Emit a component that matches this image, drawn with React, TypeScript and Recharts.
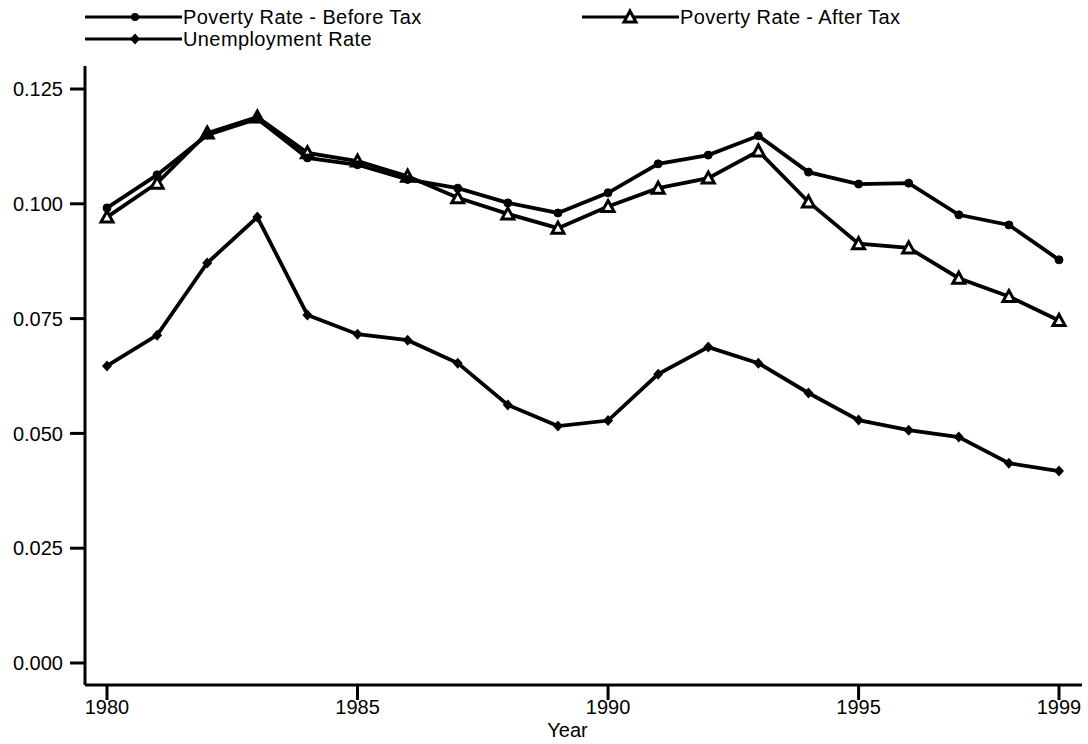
import React from "react";
import { Line, LineChart, XAxis, YAxis } from "recharts";

const years = [
  1980, 1981, 1982, 1983, 1984, 1985, 1986, 1987, 1988, 1989,
  1990, 1991, 1992, 1993, 1994, 1995, 1996, 1997, 1998, 1999,
];
const povertyBeforeTax = [
  0.0991, 0.1063, 0.115, 0.1185, 0.11, 0.1085, 0.1053, 0.1034, 0.1002, 0.098,
  0.1024, 0.1087, 0.1106, 0.1148, 0.1069, 0.1043, 0.1045, 0.0976, 0.0954, 0.0878,
];
const povertyAfterTax = [
  0.0971, 0.1045, 0.1154, 0.1189, 0.1111, 0.1093, 0.106, 0.1013, 0.0978, 0.0947,
  0.0994, 0.1034, 0.1056, 0.1115, 0.1004, 0.0913, 0.0904, 0.0838, 0.0798, 0.0746,
];
const unemploymentRate = [
  0.0647, 0.0714, 0.0871, 0.0971, 0.0758, 0.0716, 0.0703, 0.0653, 0.0562, 0.0516,
  0.0528, 0.0629, 0.0688, 0.0653, 0.0588, 0.0529, 0.0507, 0.0492, 0.0435, 0.0418,
];
const yearTicks = [1980, 1985, 1990, 1995, 1999];
const rateTicks = [0, 0.025, 0.05, 0.075, 0.1, 0.125];

const data = years.map((year, i) => ({
  year,
  before: povertyBeforeTax[i],
  after: povertyAfterTax[i],
  unemployment: unemploymentRate[i],
}));

const FONT = '"Liberation Sans", Arial, sans-serif';
const INK = "#000";

function Triangle({ cx, cy }: { cx?: number; cy?: number }) {
  if (cx == null || cy == null) return null;
  return (
    <path
      d={`M${cx},${cy - 6} L${cx + 6},${cy + 5} L${cx - 6},${cy + 5} Z`}
      fill="#fff"
      stroke={INK}
      strokeWidth={3}
      strokeLinejoin="miter"
    />
  );
}

function Diamond({ cx, cy }: { cx?: number; cy?: number }) {
  if (cx == null || cy == null) return null;
  return (
    <path
      d={`M${cx},${cy - 5.5} L${cx + 5},${cy} L${cx},${cy + 5.5} L${cx - 5},${cy} Z`}
      fill={INK}
    />
  );
}

function LegendItem({
  x,
  y,
  label,
  marker,
}: {
  x: number;
  y: number;
  label: string;
  marker: "circle" | "triangle" | "diamond";
}) {
  return (
    <g>
      <line x1={x} y1={y} x2={x + 97} y2={y} stroke={INK} strokeWidth={3} />
      {marker === "circle" && <circle cx={x + 50} cy={y} r={4} fill={INK} />}
      {marker === "triangle" && <Triangle cx={x + 48} cy={y} />}
      {marker === "diamond" && <Diamond cx={x + 50} cy={y} />}
      <text
        x={x + 98}
        y={y}
        dy="0.35em"
        fontSize={20}
        letterSpacing={0.4}
        fontFamily={FONT}
        fill={INK}
      >
        {label}
      </text>
    </g>
  );
}

export default function App() {
  return (
    <div style={{ position: "absolute", left: 0, top: 0, width: 1088, height: 744, background: "#fff" }}>
      <svg width={1088} height={60} style={{ position: "absolute", left: 0, top: 0 }}>
        <LegendItem x={85} y={17} label="Poverty Rate - Before Tax" marker="circle" />
        <LegendItem x={582} y={17} label="Poverty Rate - After Tax" marker="triangle" />
        <LegendItem x={85} y={39} label="Unemployment Rate" marker="diamond" />
      </svg>
      <LineChart
        width={1088}
        height={744}
        data={data}
        margin={{ top: 66, right: 6, bottom: 7, left: 0 }}
      >
        <XAxis
          dataKey="year"
          type="number"
          domain={[1980, 1999]}
          ticks={yearTicks}
          padding={{ left: 22, right: 23 }}
          height={52}
          axisLine={{ stroke: INK, strokeWidth: 3 }}
          tickLine={{ stroke: INK, strokeWidth: 3 }}
          tickSize={15}
          tickMargin={0}
          tick={{ fill: INK, fontSize: 20, fontFamily: FONT }}
          label={{
            value: "Year",
            position: "insideBottom",
            offset: 0,
            dx: -16,
            fill: INK,
            fontSize: 20,
            fontFamily: FONT,
          }}
        />
        <YAxis
          type="number"
          domain={[0, 0.125]}
          ticks={rateTicks}
          padding={{ top: 23, bottom: 22 }}
          width={85}
          axisLine={{ stroke: INK, strokeWidth: 3 }}
          tickLine={{ stroke: INK, strokeWidth: 3 }}
          tickSize={15}
          tickMargin={7}
          tickFormatter={(v: number) => v.toFixed(3)}
          tick={{ fill: INK, fontSize: 20, fontFamily: FONT }}
        />
        <Line
          dataKey="after"
          stroke={INK}
          strokeWidth={3.8}
          dot={(p: any) => <Triangle key={`a-${p.index}`} cx={p.cx} cy={p.cy} />}
          activeDot={false}
          isAnimationActive={false}
        />
        <Line
          dataKey="before"
          stroke={INK}
          strokeWidth={3.8}
          dot={{ r: 4, fill: INK, stroke: INK, strokeWidth: 1 }}
          activeDot={false}
          isAnimationActive={false}
        />
        <Line
          dataKey="unemployment"
          stroke={INK}
          strokeWidth={3.8}
          dot={(p: any) => <Diamond key={`u-${p.index}`} cx={p.cx} cy={p.cy} />}
          activeDot={false}
          isAnimationActive={false}
        />
      </LineChart>
    </div>
  );
}
